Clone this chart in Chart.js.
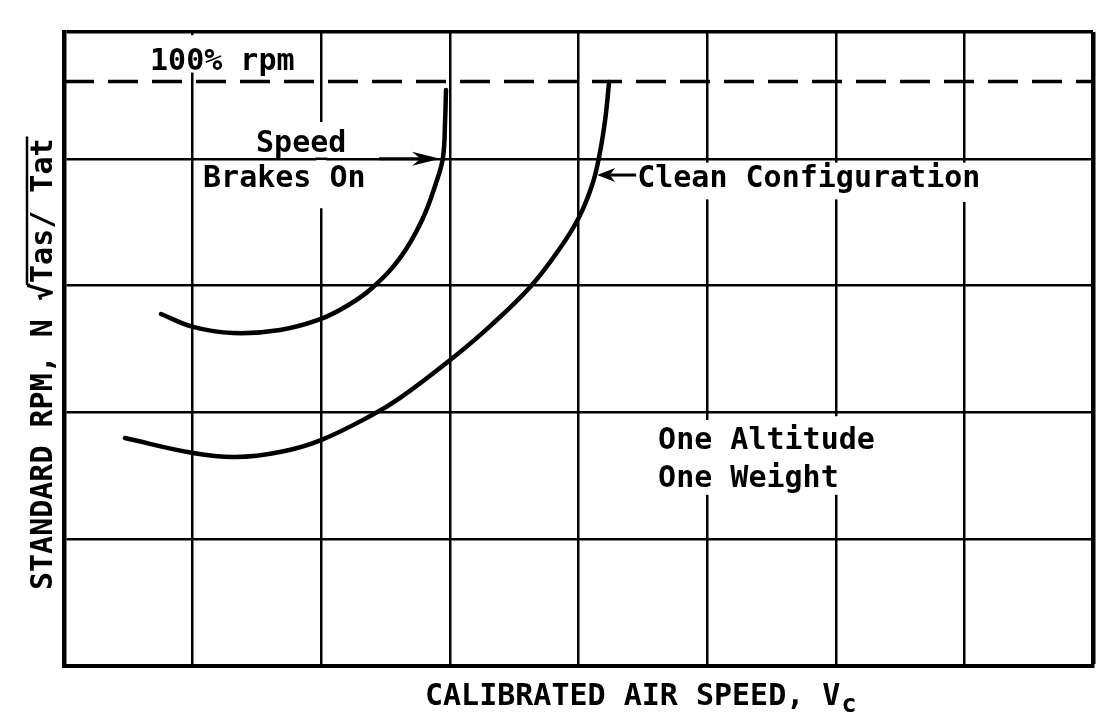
<!DOCTYPE html>
<html>
<head>
<meta charset="utf-8">
<script src="https://cdn.jsdelivr.net/npm/chart.js@4.4.1/dist/chart.umd.min.js"></script>
<style>
  html, body { margin: 0; padding: 0; background: #fff; }
  #wrap { width: 1120px; height: 727px; position: relative; }
</style>
</head>
<body>
<div id="wrap"><canvas id="rpmChart"></canvas></div>
<script>
// --- DATA (in grid units: 8 columns of air speed, 5 rows of rpm) ---
const speedBrakeSpeed = [0.754, 1.003, 1.314, 1.680, 1.998, 2.224, 2.395, 2.613, 2.784, 2.900, 2.947, 2.963, 2.970];
const speedBrakeRpm   = [2.776, 2.674, 2.626, 2.650, 2.737, 2.855, 2.981, 3.218, 3.517, 3.833, 4.014, 4.306, 4.543];
const cleanSpeed = [0.474, 1.003, 1.330, 1.680, 1.998, 2.395, 2.613, 3.002, 3.313, 3.624, 3.857, 4.005, 4.106, 4.160, 4.207, 4.238];
const cleanRpm   = [1.798, 1.680, 1.648, 1.688, 1.782, 1.979, 2.114, 2.413, 2.681, 2.989, 3.296, 3.541, 3.793, 4.014, 4.306, 4.606];
const fullRpm = 4.61;
const speedRange = [0, 8];
const rpmRange = [0, 5];

const xTitle = 'CALIBRATED AIR SPEED, V';
const xTitleSub = 'c';
const yTitle = 'STANDARD RPM, N ';
const yTitleRoot = '√Tas/ Tat';

const FONT = '"DejaVu Sans Mono", "Liberation Mono", monospace';
const INK = '#000';

function pairs(xs, ys) {
    return xs.map((v, i) => ({ x: v, y: ys[i] }));
}

// --- PAPER PLUGIN: grid gaps, notes, arrows and axis titles ---
const paperPlugin = {
    id: 'paper',
    beforeDatasetsDraw(chart, args, opts) {
        const { ctx, scales: { x, y } } = chart;
        ctx.save();
        opts.gaps.forEach(g => {
            const px = x.getPixelForValue(g.x);
            const top = y.getPixelForValue(g.to);
            const bot = y.getPixelForValue(g.from);
            ctx.fillStyle = '#fff';
            ctx.fillRect(px - 5, top, 10, bot - top);
            // put back any horizontal rule that runs through the gap
            for (let v = rpmRange[0] + 1; v < rpmRange[1]; v++) {
                const py = y.getPixelForValue(v);
                if (py > top && py < bot) {
                    ctx.strokeStyle = INK;
                    ctx.lineWidth = 2.5;
                    ctx.beginPath();
                    ctx.moveTo(px - 6, py);
                    ctx.lineTo(px + 6, py);
                    ctx.stroke();
                }
            }
        });
        ctx.restore();
    },
    afterDraw(chart, args, opts) {
        const { ctx, chartArea: area, scales: { x, y } } = chart;
        ctx.save();
        ctx.fillStyle = INK;
        ctx.strokeStyle = INK;
        ctx.font = 'bold 30px ' + FONT;
        ctx.textBaseline = 'alphabetic';
        ctx.textAlign = 'left';

        opts.notes.forEach(n => {
            ctx.fillText(n.text, x.getPixelForValue(n.x), y.getPixelForValue(n.y));
        });

        // arrows
        opts.arrows.forEach(a => {
            const tx = x.getPixelForValue(a.tipX), ty = y.getPixelForValue(a.tipY);
            const sx = x.getPixelForValue(a.tailX);
            const dir = sx < tx ? 1 : -1;
            ctx.lineWidth = 3;
            ctx.beginPath();
            ctx.moveTo(sx, ty);
            ctx.lineTo(tx - dir * a.len * 0.6, ty);
            ctx.stroke();
            ctx.beginPath();
            ctx.moveTo(tx, ty);
            ctx.lineTo(tx - dir * a.len, ty - a.half);
            ctx.lineTo(tx - dir * a.len * 0.7, ty);
            ctx.lineTo(tx - dir * a.len, ty + a.half);
            ctx.closePath();
            ctx.fill();
        });

        // x axis title with subscript
        const xl = area.left + 361, xb = area.bottom + 39;
        ctx.fillText(xTitle, xl, xb);
        const w = ctx.measureText(xTitle).width;
        ctx.font = 'bold 25px ' + FONT;
        ctx.fillText(xTitleSub, xl + w + 1, xb + 7);

        // y axis title, rotated, with a radical bar over Tas/Tat
        ctx.font = 'bold 30px ' + FONT;
        ctx.translate(area.left - 12, area.bottom - 76);
        ctx.rotate(-Math.PI / 2);
        ctx.fillText(yTitle + yTitleRoot, 0, 0);
        const w0 = ctx.measureText(yTitle).width;
        const rootBox = ctx.measureText('√');
        const wAll = ctx.measureText(yTitle + yTitleRoot).width;
        const barY = -rootBox.actualBoundingBoxAscent;
        ctx.lineWidth = 2.5;
        ctx.beginPath();
        ctx.moveTo(w0 + rootBox.actualBoundingBoxRight - 2, barY + 1);
        ctx.lineTo(wAll + 2, barY + 1);
        ctx.stroke();
        ctx.restore();
    }
};

const ctx = document.getElementById('rpmChart').getContext('2d');
new Chart(ctx, {
    type: 'line',
    data: {
        datasets: [
            {
                label: 'Speed Brakes On',
                data: pairs(speedBrakeSpeed, speedBrakeRpm),
                borderColor: INK, borderWidth: 4.5,
                tension: 0.4, borderCapStyle: 'round',
                pointRadius: 0, fill: false
            },
            {
                label: 'Clean Configuration',
                data: pairs(cleanSpeed, cleanRpm),
                borderColor: INK, borderWidth: 4.5,
                tension: 0.4, borderCapStyle: 'round',
                pointRadius: 0, fill: false
            },
            {
                label: '100% rpm',
                data: pairs(speedRange, [fullRpm, fullRpm]),
                borderColor: INK, borderWidth: 3.5,
                borderDash: [30, 14],
                pointRadius: 0, fill: false
            }
        ]
    },
    options: {
        responsive: true, maintainAspectRatio: false, animation: false,
        devicePixelRatio: 1,
        layout: { padding: { left: 64, top: 32, right: 27, bottom: 61 } },
        plugins: {
            legend: { display: false },
            tooltip: { enabled: false },
            paper: {
                gaps: [
                    { x: 1, from: 4.68, to: 4.975 },
                    { x: 2, from: 3.61, to: 4.29 },
                    { x: 5, from: 3.68, to: 3.97 },
                    { x: 6, from: 3.68, to: 3.97 },
                    { x: 7, from: 3.66, to: 3.97 },
                    { x: 5, from: 1.35, to: 1.94 },
                    { x: 6, from: 1.35, to: 1.97 }
                ],
                notes: [
                    { text: '100% rpm', x: 0.669, y: 4.70 },
                    { text: 'Speed', x: 1.493, y: 4.054 },
                    { text: 'Brakes On', x: 1.081, y: 3.778 },
                    { text: 'Clean Configuration', x: 4.456, y: 3.778 },
                    { text: 'One Altitude', x: 4.619, y: 1.711 },
                    { text: 'One Weight', x: 4.619, y: 1.412 }
                ],
                arrows: [
                    { tipX: 2.924, tipY: 4.0, tailX: 2.45, len: 28, half: 7 },
                    { tipX: 4.145, tipY: 3.872, tailX: 4.448, len: 18, half: 7 }
                ]
            }
        },
        scales: {
            x: {
                type: 'linear', min: speedRange[0], max: speedRange[1],
                ticks: { display: false, stepSize: 1 },
                grid: {
                    color: INK, drawTicks: false,
                    lineWidth: c => (c.tick && c.tick.value === speedRange[1]) ? 4.5 : 2.5
                },
                border: { display: true, color: INK, width: 4 }
            },
            y: {
                type: 'linear', min: rpmRange[0], max: rpmRange[1],
                ticks: { display: false, stepSize: 1 },
                grid: {
                    color: INK, drawTicks: false,
                    lineWidth: c => (c.tick && c.tick.value === rpmRange[1]) ? 3.5 : 2.5
                },
                border: { display: true, color: INK, width: 4.5 }
            }
        }
    },
    plugins: [paperPlugin]
});
</script>
</body>
</html>
